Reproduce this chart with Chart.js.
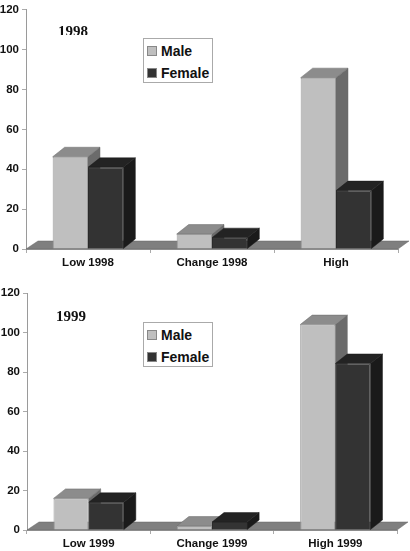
<!DOCTYPE html>
<html>
<head>
<meta charset="utf-8">
<script src="https://cdn.jsdelivr.net/npm/chart.js@4"></script>
<style>
    html, body { margin: 0; padding: 0; background: #fff; }
    body { position: relative; width: 410px; height: 551px; overflow: hidden; }
    canvas { position: absolute; left: 0; }
    .titulo {
        position: absolute; overflow: hidden;
        font: bold 15px "Liberation Serif", serif; color: #111; line-height: 17px;
    }
    .leyenda {
        position: absolute; left: 143px; width: 68px; height: 43px;
        border: 1px solid #aaa; background: #fff;
        font: bold 14px "Liberation Sans", Arial, sans-serif; color: #111;
    }
    .leyenda div { position: absolute; left: 17px; line-height: 16px; }
    .leyenda span { position: absolute; left: -14px; top: 3px; width: 8px; height: 8px; border: 1px solid #888; }
</style>
</head>
<body>
<canvas id="chart-1998" width="410" height="276" style="top:0"></canvas>
<canvas id="chart-1999" width="410" height="275" style="top:276px"></canvas>
<div class="titulo" style="left:58px;top:23px;height:12px">1998</div>
<div class="titulo" style="left:56px;top:308px;height:17px">1999</div>
<div class="leyenda" id="leyenda-1998" style="top:38px"></div>
<div class="leyenda" id="leyenda-1999" style="top:322px"></div>
<script>
// datos
const series = ["Male", "Female"];
const labels1998 = ["Low 1998", "Change 1998", "High"];
const male1998 = [46.3, 7.5, 86];
const female1998 = [41, 5.7, 29.3];
const labels1999 = ["Low 1999", "Change 1999", "High 1999"];
const male1999 = [16, 2, 104];
const female1999 = [14, 4, 84.3];

const colores = {
    Male: { frente: "#bfbfbf", borde: "#9a9a9a", arriba: "#8c8c8c", lado: "#6b6b6b" },
    Female: { frente: "#333333", borde: "#2a2a2a", arriba: "#232323", lado: "#1a1a1a" }
};
const fuenteEje = { family: "'Liberation Sans', Arial, sans-serif", size: 11.5, weight: "bold" };

function poligono(ctx, puntos, relleno, borde) {
    ctx.beginPath();
    puntos.forEach((p, i) => i ? ctx.lineTo(p[0], p[1]) : ctx.moveTo(p[0], p[1]));
    ctx.closePath();
    ctx.fillStyle = relleno;
    ctx.fill();
    ctx.strokeStyle = borde;
    ctx.lineWidth = 0.5;
    ctx.stroke();
}

// suelo y caras 3D, debajo de los frentes de las barras
const plugin3D = {
    id: "efecto3d",
    beforeDatasetsDraw(chart) {
        const ctx = chart.ctx;
        const { left, right, bottom } = chart.chartArea;
        poligono(ctx, [[left, bottom], [left + 12, bottom - 8], [right + 11, bottom - 8], [right, bottom]], "#7f7f7f", "#666");

        // primero Male, para que Female quede encima
        chart.data.datasets.forEach((ds, i) => {
            const c = colores[ds.label];
            chart.getDatasetMeta(i).data.forEach(bar => {
                const d = 12, h = 9.5;
                const der = bar.x + bar.width / 2;
                const izq = bar.x - bar.width / 2;
                poligono(ctx, [[der, bar.y], [der + d, bar.y - h], [der + d, bar.base - h], [der, bar.base]], c.lado, c.lado);
                poligono(ctx, [[izq, bar.y], [izq + d, bar.y - h], [der + d, bar.y - h], [der, bar.y]], c.arriba, c.lado);
            });
        });
    }
};

function crearGrafica(id, labels, male, female, area) {
    const datos = [male, female];
    return new Chart(document.getElementById(id).getContext("2d"), {
        type: "bar",
        data: {
            labels: labels,
            datasets: series.map((nombre, i) => ({
                label: nombre,
                data: datos[i],
                backgroundColor: colores[nombre].frente,
                borderColor: colores[nombre].borde,
                borderWidth: 1,
                categoryPercentage: 0.57,
                barPercentage: 1
            }))
        },
        options: {
            responsive: false,
            animation: false,
            layout: { padding: { top: area.arriba, right: 410 - area.derecha } },
            plugins: { legend: { display: false }, tooltip: { enabled: false } },
            scales: {
                x: {
                    afterFit: s => { s.height = area.pie; },
                    border: { color: "#9a9a9a" },
                    grid: { drawOnChartArea: false, tickLength: 4, tickColor: "#aaa" },
                    ticks: { color: "#111", font: fuenteEje, padding: 3, maxRotation: 0 }
                },
                y: {
                    min: 0,
                    max: 120,
                    afterFit: s => { s.width = area.izquierda; },
                    border: { color: "#9a9a9a" },
                    grid: { drawOnChartArea: false, tickLength: 4, tickColor: "#aaa" },
                    ticks: { stepSize: 20, color: "#111", font: fuenteEje, padding: 3 }
                }
            }
        },
        plugins: [plugin3D]
    });
}

function crearLeyenda(id) {
    const caja = document.getElementById(id);
    series.forEach((nombre, i) => {
        const fila = document.createElement("div");
        fila.style.top = (4 + i * 22) + "px";
        fila.textContent = nombre;
        const muestra = document.createElement("span");
        muestra.style.background = colores[nombre].frente;
        fila.appendChild(muestra);
        caja.appendChild(fila);
    });
}

crearGrafica("chart-1998", labels1998, male1998, female1998, { arriba: 7, pie: 27, izquierda: 26, derecha: 398 });
crearGrafica("chart-1999", labels1999, male1999, female1999, { arriba: 17, pie: 21, izquierda: 27, derecha: 397 });
crearLeyenda("leyenda-1998");
crearLeyenda("leyenda-1999");
</script>
</body>
</html>
